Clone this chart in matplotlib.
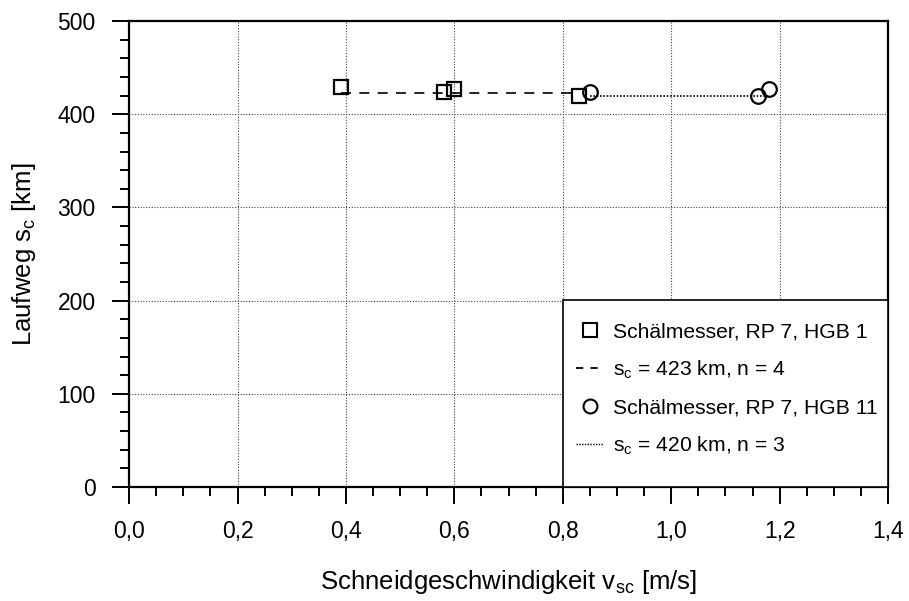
import matplotlib
matplotlib.use("Agg")
import matplotlib.pyplot as plt
from matplotlib.patches import Rectangle
from matplotlib.lines import Line2D
from matplotlib.ticker import MultipleLocator, FuncFormatter

plt.rcParams['font.family'] = ['Liberation Sans', 'DejaVu Sans']

# HGB 1 series (squares)
v_hgb1 = [0.39, 0.58, 0.60, 0.83]
s_hgb1 = [429, 424, 427, 420]
mean_hgb1 = 423

# HGB 11 series (circles)
v_hgb11 = [0.85, 1.16, 1.18]
s_hgb11 = [424, 420, 427]
mean_hgb11 = 420

labels = ["Schälmesser, RP 7, HGB 1",
          r"s$_\mathregular{c}$ = 423 km, n = 4",
          "Schälmesser, RP 7, HGB 11",
          r"s$_\mathregular{c}$ = 420 km, n = 3"]

fig = plt.figure(figsize=(9.09, 6.01), dpi=100)
ax = fig.add_axes([0.142, 0.1897, 0.835, 0.7753])

fs_tick = 16.5
fs_label = 18.5
fs_leg = 15.2

ax.set_xlim(0, 1.4)
ax.set_ylim(0, 500)
ax.xaxis.set_major_locator(MultipleLocator(0.2))
ax.xaxis.set_minor_locator(MultipleLocator(0.05))
ax.yaxis.set_major_locator(MultipleLocator(100))
ax.yaxis.set_minor_locator(MultipleLocator(20))
ax.xaxis.set_major_formatter(FuncFormatter(lambda x, p: f"{x:.1f}".replace('.', ',')))
ax.tick_params(which='major', direction='out', length=12, width=1.4, labelsize=fs_tick)
ax.tick_params(which='minor', direction='out', length=6.5, width=1.4)
ax.tick_params(axis='x', which='major', pad=12)
ax.tick_params(axis='y', which='major', pad=12)
for sp in ax.spines.values():
    sp.set_linewidth(1.6)

ax.grid(True, which='major', linestyle=(0, (1, 1.5)), linewidth=0.8, color='#444444')
ax.set_axisbelow(True)

# Mean lines
ax.plot([min(v_hgb1), max(v_hgb1)], [mean_hgb1] * 2, color='black', lw=1.2,
        linestyle=(0, (6, 5)), zorder=3)
ax.plot([min(v_hgb11), max(v_hgb11)], [mean_hgb11] * 2, color='black', lw=1.2,
        linestyle=(0, (1, 1)), zorder=3)

# Measurements
ax.plot(v_hgb1, s_hgb1, linestyle='none', marker='s', markersize=10.5,
        markerfacecolor='none', markeredgecolor='black', markeredgewidth=1.6, zorder=4)
ax.plot(v_hgb11, s_hgb11, linestyle='none', marker='o', markersize=10.5,
        markerfacecolor='none', markeredgecolor='black', markeredgewidth=1.6, zorder=4)

ax.set_xlabel(r"Schneidgeschwindigkeit v$_\mathregular{sc}$ [m/s]", fontsize=fs_label, labelpad=18)
ax.set_ylabel(r"Laufweg s$_\mathregular{c}$ [km]", fontsize=fs_label, labelpad=14)

# Legend box in lower right corner
box = Rectangle((0.572, 0.0), 0.428, 0.401, transform=ax.transAxes,
                facecolor='white', edgecolor='black', linewidth=1.2, zorder=5)
ax.add_patch(box)

handles = [
    Line2D([], [], linestyle='none', marker='s', markersize=10, markerfacecolor='none',
           markeredgecolor='black', markeredgewidth=1.5),
    Line2D([], [], color='black', lw=1.3, linestyle=(0, (4, 4))),
    Line2D([], [], linestyle='none', marker='o', markersize=10, markerfacecolor='none',
           markeredgecolor='black', markeredgewidth=1.5),
    Line2D([], [], color='black', lw=1.0, linestyle=(0, (1, 1))),
]
leg = ax.legend(handles, labels, loc='upper left', bbox_to_anchor=(0.572, 0.381),
                frameon=False, fontsize=fs_leg, handlelength=1.3, handletextpad=0.45,
                labelspacing=0.82, borderaxespad=0.2)
leg.set_zorder(6)

fig.savefig("out.png", dpi=100)
